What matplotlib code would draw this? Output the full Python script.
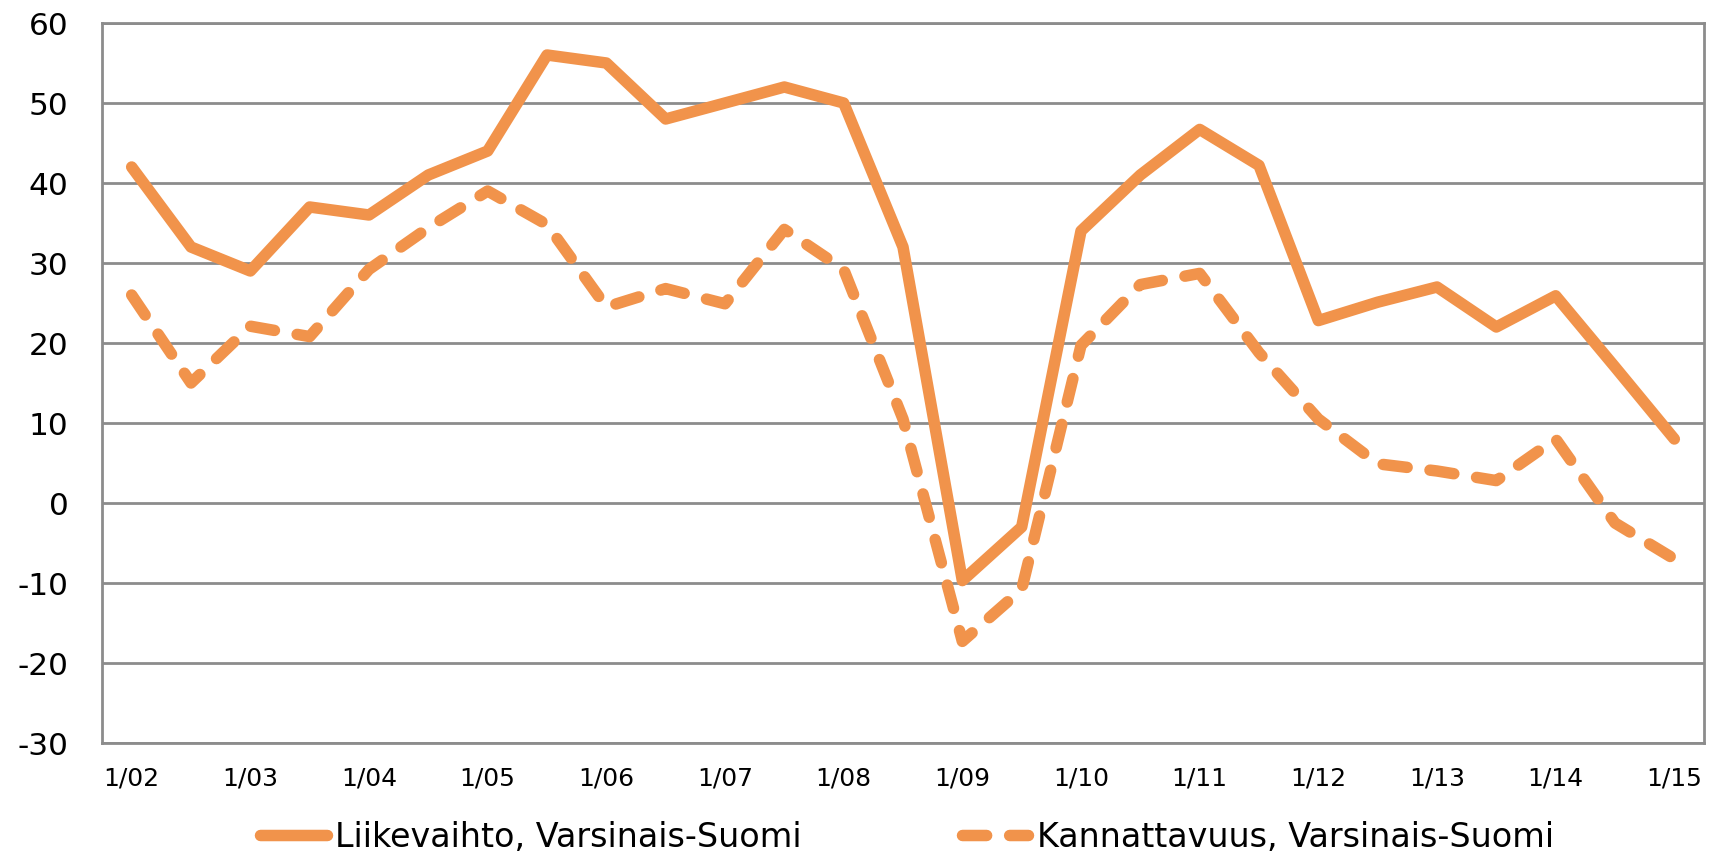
import numpy as np
import matplotlib
matplotlib.use('Agg')
import matplotlib.pyplot as plt

# puolivuosittaiset havainnot 1/02 ... 1/15
labels = ['1/02', '1/03', '1/04', '1/05', '1/06', '1/07', '1/08',
          '1/09', '1/10', '1/11', '1/12', '1/13', '1/14', '1/15']
liikevaihto = [42, 32, 29, 37, 36, 41, 44, 56, 55, 48, 50, 52, 50, 32,
               -9.7, -3, 34, 41, 46.7, 42.2, 22.8, 25.1, 27, 22, 25.9, 17, 8]
kannattavuus = [26, 15, 22.1, 20.8, 29.2, 34.4, 39, 34.8, 24.5, 26.8, 24.9,
                34.2, 29.2, 10.5, -17.3, -10.8, 19.7, 27.3, 28.7, 18.8, 10.5,
                4.9, 4.0, 2.8, 8.0, -2.5, -7.0]
nimet = ['Liikevaihto, Varsinais-Suomi', 'Kannattavuus, Varsinais-Suomi']

oranssi = '#F1934B'
harmaa = '#8C8C8C'
lw = 11.5 * 72 / 100.  # noin 11.5 px

fig = plt.figure(figsize=(17.11, 8.54), dpi=100)
ax = fig.add_axes([102/1711., 1-744/854., (1704-102)/1711., 720/854.])

x = np.arange(len(liikevaihto))
ax.plot(x, liikevaihto, color=oranssi, lw=lw, solid_capstyle='round',
        solid_joinstyle='round', label=nimet[0], zorder=3)
ax.plot(x, kannattavuus, color=oranssi, lw=lw, dashes=(2.1, 2.0),
        dash_capstyle='round', dash_joinstyle='round', label=nimet[1], zorder=3)

ax.set_xlim(-0.5, len(x) - 0.5)
ax.set_ylim(-30, 60)
ax.set_yticks(np.arange(-30, 61, 10))
ax.set_yticklabels([str(v) for v in range(-30, 61, 10)])
ax.set_xticks(np.arange(0, len(x), 2))
ax.set_xticklabels(labels)
ax.grid(axis='y', color=harmaa, lw=2, zorder=1)
ax.set_axisbelow(True)
for s in ax.spines.values():
    s.set_color(harmaa)
    s.set_linewidth(2)
ax.tick_params(axis='y', length=0, pad=24, labelsize=22.5)
ax.tick_params(axis='x', length=0, pad=16, labelsize=18)

fig.legend(loc='center', bbox_to_anchor=(907/1711., 1-838/854.), ncol=2,
           frameon=False, borderpad=0, handlelength=2.0, handletextpad=0.25,
           columnspacing=4.8, prop={'size': 24})

fig.savefig('out.png', dpi=100)
